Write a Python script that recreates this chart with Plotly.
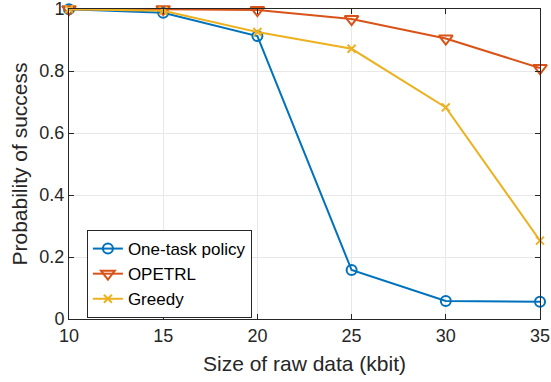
import plotly.graph_objects as go

sizes = [10, 15, 20, 25, 30, 35]
one_task = [1.0, 0.988, 0.913, 0.158, 0.058, 0.056]
opetrl = [1.0, 1.0, 0.997, 0.968, 0.905, 0.81]
greedy = [1.0, 0.995, 0.926, 0.872, 0.683, 0.253]
y_ticks = [0, 0.2, 0.4, 0.6, 0.8, 1]
y_labels = ["0", "0.2", "0.4", "0.6", "0.8", "1"]

FONT = "Liberation Sans, Arial"

fig = go.Figure()
fig.add_trace(go.Scatter(x=sizes, y=one_task, name="One-task policy", mode="lines+markers", cliponaxis=False,
                         line=dict(color="#0072BD", width=2),
                         marker=dict(symbol="circle-open", size=10, color="#0072BD", line=dict(width=2))))
fig.add_trace(go.Scatter(x=sizes, y=opetrl, name="OPETRL", mode="lines+markers", cliponaxis=False,
                         line=dict(color="#D95319", width=2),
                         marker=dict(symbol="triangle-down-open", size=12, color="#D95319", line=dict(width=2))))
fig.add_trace(go.Scatter(x=sizes, y=greedy, name="Greedy", mode="lines+markers", cliponaxis=False,
                         line=dict(color="#EDB120", width=2),
                         marker=dict(symbol="x-thin-open", size=8, color="#EDB120", line=dict(width=2))))

axis_common = dict(showline=True, linecolor="#262626", linewidth=1, mirror="ticks",
                   ticks="inside", ticklen=5, tickcolor="#262626", automargin=False,
                   showgrid=True, gridcolor="#e8e8e8", gridwidth=1, zeroline=False,
                   ticklabeloverflow="allow",
                   tickfont=dict(family=FONT, size=18, color="#262626"))

fig.update_xaxes(range=[10, 35], tickvals=sizes, ticktext=[str(s) for s in sizes],
                 title=dict(text="Size of raw data (kbit)", font=dict(family=FONT, size=21, color="#262626"), standoff=11),
                 **axis_common)
fig.update_yaxes(range=[0, 1.0005], tickvals=y_ticks, ticktext=y_labels,
                 title=dict(text="Probability of success", font=dict(family=FONT, size=21, color="#262626"), standoff=6),
                 **axis_common)

fig.update_layout(
    width=551, height=382,
    margin=dict(l=69, r=11, t=9, b=63, autoexpand=False),
    plot_bgcolor="white", paper_bgcolor="white",
    legend=dict(x=0.038, y=0.287, xanchor="left", yanchor="top",
                bgcolor="white", bordercolor="#262626", borderwidth=1,
                font=dict(family=FONT, size=17, color="#000000"),
                tracegroupgap=0, itemwidth=30),
    showlegend=True,
)

fig.write_html("out.html", config={"displayModeBar": False},
               post_script="document.body.style.margin='0';")
